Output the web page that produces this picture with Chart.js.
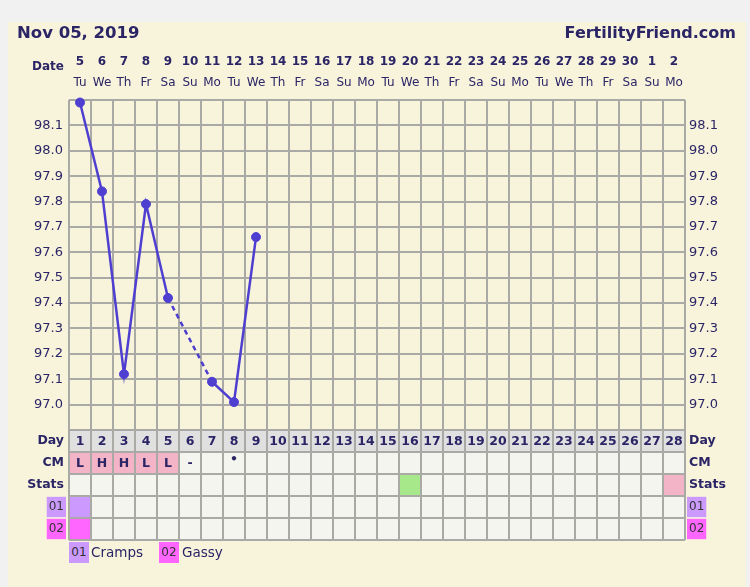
<!DOCTYPE html>
<html><head><meta charset="utf-8">
<script src="https://cdn.jsdelivr.net/npm/chart.js@4"></script>
<style>
html,body{margin:0;padding:0;background:#f1f1f1;width:750px;height:587px;overflow:hidden;}
#panel{position:absolute;left:8px;top:22px;width:738px;height:565px;background:#f8f4dc;}
#c{position:absolute;left:0;top:0;}
.t{position:absolute;font-family:"DejaVu Sans",Verdana,sans-serif;color:#2b2566;white-space:nowrap;}
.b{font-weight:bold;}
.box{position:absolute;font-family:"DejaVu Sans",Verdana,sans-serif;font-size:12px;color:#333;text-align:center;line-height:21px;height:21px;width:20px;}
</style></head>
<body>
<div id="panel"></div>
<canvas id="c" width="750" height="587"></canvas>
<div class="t b" style="left:17px;top:23px;font-size:16.5px;line-height:20px;">Nov 05, 2019</div>
<div class="t b" style="right:14px;top:23px;font-size:16px;line-height:20px;">FertilityFriend.com</div>
<div class="t b" style="left:32px;top:58px;font-size:12px;line-height:16px;">Date</div>
<div class="box" style="left:69px;top:542px;background:#cc99ff;">01</div>
<div class="t" style="left:91px;top:543px;font-size:13.5px;line-height:18px;">Cramps</div>
<div class="box" style="left:159px;top:542px;background:#ff66ff;">02</div>
<div class="t" style="left:182px;top:543px;font-size:13.5px;line-height:18px;">Gassy</div>
<script>
// ---- data ----
const dates = ['5','6','7','8','9','10','11','12','13','14','15','16','17','18','19','20','21','22','23','24','25','26','27','28','29','30','1','2'];
const weekdays = ['Tu','We','Th','Fr','Sa','Su','Mo','Tu','We','Th','Fr','Sa','Su','Mo','Tu','We','Th','Fr','Sa','Su','Mo','Tu','We','Th','Fr','Sa','Su','Mo'];
const cycleDays = ['1','2','3','4','5','6','7','8','9','10','11','12','13','14','15','16','17','18','19','20','21','22','23','24','25','26','27','28'];
const temps = [98.19, 97.84, 97.12, 97.79, 97.42, null, 97.09, 97.01, 97.66, null, null, null, null, null, null, null, null, null, null, null, null, null, null, null, null, null, null, null];
const cm = ['L','H','H','L','L','-','','•','','','','','','','','','','','','','','','','','','','',''];
const stats = ['','','','','','','','','','','','','','','','ov','','','','','','','','','','','','period'];
const cramps = [1,0,0,0,0,0,0,0,0,0,0,0,0,0,0,0,0,0,0,0,0,0,0,0,0,0,0,0];
const gassy  = [1,0,0,0,0,0,0,0,0,0,0,0,0,0,0,0,0,0,0,0,0,0,0,0,0,0,0,0];
const rowLabels = ['Day','CM','Stats','01','02'];
const tempTicks = [96.9, 97.0, 97.1, 97.2, 97.3, 97.4, 97.5, 97.6, 97.7, 97.8, 97.9, 98.0, 98.1, 98.2];

// ---- style ----
const NAVY = '#2b2566';
const FAM = '"DejaVu Sans", Verdana, sans-serif';
const GRID = '#a9a9a6';
const LINE = '#4f3fd0';
const C_LIGHT = '#f5f5ef', C_DAY = '#e0e0e0', C_PINK = '#f2b4c6', C_GREEN = '#a6e88a', C_PURPLE = '#cc99ff', C_MAG = '#ff66ff';

function cellColor(r, i) {
  if (r === 0) return C_DAY;
  if (r === 1) return (cm[i] === 'L' || cm[i] === 'H') ? C_PINK : C_LIGHT;
  if (r === 2) return stats[i] === 'ov' ? C_GREEN : (stats[i] === 'period' ? C_PINK : C_LIGHT);
  if (r === 3) return cramps[i] ? C_PURPLE : C_LIGHT;
  if (r === 4) return gassy[i] ? C_MAG : C_LIGHT;
  return C_LIGHT;
}

const tablePlugin = {
  id: 'table',
  beforeDraw(chart) {
    const {ctx, scales} = chart;
    const x = scales.x, t = scales.tL;
    const cw = x.width / dates.length, rh = t.height / rowLabels.length;
    ctx.save();
    for (let i = 0; i < dates.length; i++) {
      const cx = x.getPixelForValue(i);
      for (let r = 0; r < rowLabels.length; r++) {
        const cy = t.getPixelForValue(r);
        ctx.fillStyle = cellColor(r, i);
        ctx.fillRect(cx - cw / 2, cy - rh / 2, cw, rh);
      }
    }
    ctx.restore();
  },
  afterDraw(chart) {
    const {ctx, scales} = chart;
    const x = scales.x, t = scales.tL;
    ctx.save();
    ctx.fillStyle = NAVY;
    ctx.textAlign = 'center';
    ctx.textBaseline = 'middle';
    for (let i = 0; i < dates.length; i++) {
      const cx = x.getPixelForValue(i);
      ctx.font = 'bold 12.5px ' + FAM;
      ctx.fillText(cycleDays[i], cx, t.getPixelForValue(0) + 1);
      if (cm[i]) {
        ctx.font = 'bold 12.5px ' + FAM;
        ctx.fillText(cm[i], cx, t.getPixelForValue(1) + (cm[i] === '•' ? -3 : 1));
      }
    }
    ctx.restore();
  }
};

const tableTicks = {
  padding: 5,
  autoSkip: false,
  font: c => c.index >= 3 ? {family: FAM, size: 12, weight: 'normal'} : {family: FAM, size: 12.5, weight: 'bold'},
  color: c => c.index >= 3 ? '#333' : NAVY,
  showLabelBackdrop: c => c.index >= 3,
  backdropColor: c => c.index === 3 ? C_PURPLE : C_MAG,
  backdropPadding: {top: 3, bottom: 3, left: 2, right: 2}
};

const skipped = (c, v) => (c.p0.skip || c.p1.skip) ? v : undefined;

new Chart(document.getElementById('c'), {
  type: 'line',
  data: {
    labels: weekdays,
    datasets: [{
      data: temps,
      xAxisID: 'x',
      yAxisID: 'yL',
      borderColor: LINE,
      backgroundColor: LINE,
      borderWidth: 2.5,
      pointRadius: 4.5,
      pointBorderWidth: 1,
      pointBackgroundColor: LINE,
      spanGaps: true,
      clip: false,
      segment: {
        borderDash: c => skipped(c, [5, 4])
      }
    }]
  },
  options: {
    responsive: false,
    animation: false,
    devicePixelRatio: 1,
    layout: {padding: {left: 0, right: 0, top: 0, bottom: 47}},
    plugins: {legend: {display: false}, tooltip: {enabled: false}},
    scales: {
      xd: {
        type: 'category', axis: 'x', position: 'top', labels: dates, offset: true, weight: 2,
        grid: {display: false, drawTicks: false}, border: {display: false},
        ticks: {font: {family: FAM, size: 12, weight: 'bold'}, color: NAVY, padding: 3, autoSkip: false, maxRotation: 0},
        afterFit: s => { s.height = 72; }
      },
      x: {
        type: 'category', axis: 'x', position: 'top', labels: weekdays, offset: true, weight: 1,
        grid: {offset: true, color: GRID, lineWidth: 2, drawTicks: false}, border: {display: false},
        ticks: {font: {family: FAM, size: 12}, color: NAVY, padding: 10, autoSkip: false, maxRotation: 0},
        afterFit: s => { s.height = 28; }
      },
      yL: {
        type: 'linear', axis: 'y', position: 'left', stack: 'L', stackWeight: 3, weight: 2,
        min: 96.9, max: 98.2,
        afterBuildTicks: s => { s.ticks = tempTicks.map(v => ({value: v})); },
        grid: {color: GRID, lineWidth: 2, drawTicks: false}, border: {display: false},
        ticks: {font: {family: FAM, size: 13}, color: NAVY, padding: 6, autoSkip: false,
          callback: v => (v < 96.95 || v > 98.15) ? '' : v.toFixed(1)},
        afterFit: s => { s.width = 69; }
      },
      tL: {
        type: 'category', axis: 'y', position: 'left', labels: rowLabels, stack: 'L', stackWeight: 1, weight: 1,
        offset: true,
        grid: {offset: true, color: GRID, lineWidth: 2, drawTicks: false}, border: {display: false},
        ticks: tableTicks,
        afterFit: s => { s.width = 69; }
      },
      yR: {
        type: 'linear', axis: 'y', position: 'right', stack: 'R', stackWeight: 3, weight: 1,
        min: 96.9, max: 98.2,
        afterBuildTicks: s => { s.ticks = tempTicks.map(v => ({value: v})); },
        grid: {display: false, drawTicks: false}, border: {display: false},
        ticks: {font: {family: FAM, size: 13}, color: NAVY, padding: 4, autoSkip: false,
          callback: v => (v < 96.95 || v > 98.15) ? '' : v.toFixed(1)},
        afterFit: s => { s.width = 65; }
      },
      tR: {
        type: 'category', axis: 'y', position: 'right', labels: rowLabels, stack: 'R', stackWeight: 1, weight: 2,
        offset: true,
        grid: {display: false, drawTicks: false}, border: {display: false},
        ticks: Object.assign({}, tableTicks, {padding: 4}),
        afterFit: s => { s.width = 65; }
      }
    }
  },
  plugins: [tablePlugin]
});
</script>
</body></html>
